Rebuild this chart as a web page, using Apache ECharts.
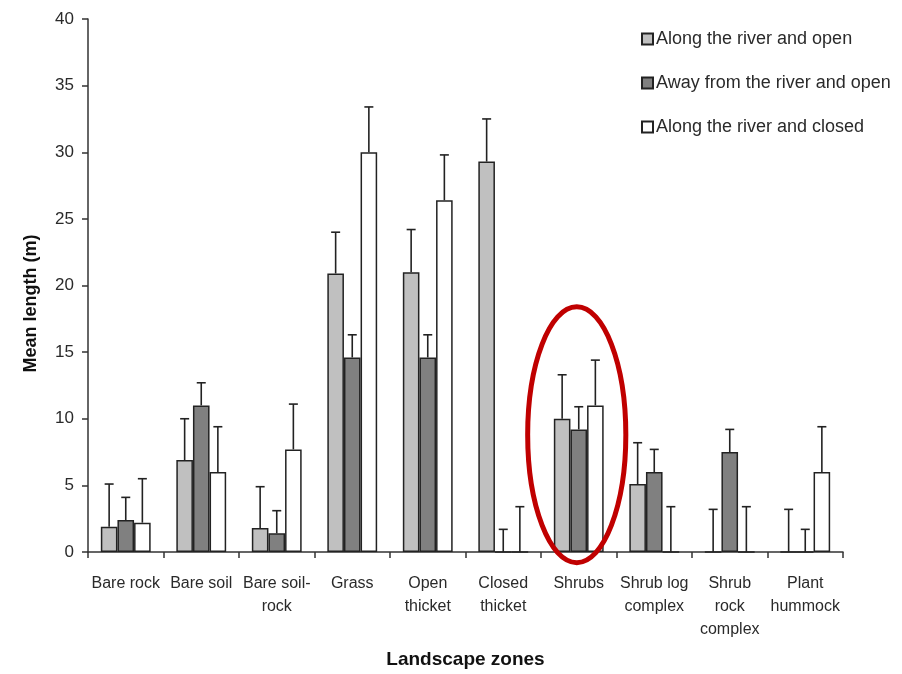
<!DOCTYPE html>
<html>
<head>
<meta charset="utf-8">
<style>
  html, body { margin: 0; padding: 0; background: #fff; overflow: hidden; }
  #chart { position: absolute; left: 0; top: 0; width: 902px; height: 674px; }
</style>
<script src="https://cdn.jsdelivr.net/npm/echarts@6/dist/echarts.min.js"></script>
</head>
<body>
<div id="chart"></div>
<script>
// Landscape zones on the category axis
const zones = ['Bare rock', 'Bare soil', 'Bare soil-\nrock', 'Grass', 'Open\nthicket',
  'Closed\nthicket', 'Shrubs', 'Shrub log\ncomplex', 'Shrub\nrock\ncomplex', 'Plant\nhummock'];

const seriesNames = ['Along the river and open', 'Away from the river and open', 'Along the river and closed'];

// Mean lengths (m)
const alongOpen   = [1.9, 6.9, 1.8, 20.9, 21.0, 29.3, 10.0, 5.1, 0, 0];
const awayOpen    = [2.4, 11.0, 1.4, 14.6, 14.6, 0, 9.2, 6.0, 7.5, 0];
const alongClosed = [2.2, 6.0, 7.7, 30.0, 26.4, 0, 11.0, 0, 0, 6.0];

// Upper error (m), added on top of each mean
const errAlongOpen   = [3.2, 3.1, 3.1, 3.1, 3.2, 3.2, 3.3, 3.1, 3.2, 3.2];
const errAwayOpen    = [1.7, 1.7, 1.7, 1.7, 1.7, 1.7, 1.7, 1.7, 1.7, 1.7];
const errAlongClosed = [3.3, 3.4, 3.4, 3.4, 3.4, 3.4, 3.4, 3.4, 3.4, 3.4];

const yTicks = { min: 0, max: 40, interval: 5 };

const fills = ['#c0c0c0', '#808080', '#ffffff'];
const means = [alongOpen, awayOpen, alongClosed];
const errs = [errAlongOpen, errAwayOpen, errAlongClosed];

const categoryGap = 0.34;
const textColor = '#2a2a2a';
const fontFamily = 'Arial, "Liberation Sans", sans-serif';

const chart = echarts.init(document.getElementById('chart'), null, { renderer: 'canvas', width: 902, height: 674 });

function errorSeries(k) {
  return {
    type: 'custom',
    name: seriesNames[k] + ' error',
    z: 5,
    silent: true,
    data: means[k].map((v, i) => [i, v, v + errs[k][i]]),
    renderItem: function (params, api) {
      const band = api.size([1, 0])[0];
      const barW = band * (1 - categoryGap) / 3;
      const off = (k - 1) * barW;
      const base = api.coord([api.value(0), api.value(1)]);
      const top = api.coord([api.value(0), api.value(2)]);
      const x = base[0] + off;
      const half = 4.5;
      const style = { stroke: '#222', lineWidth: 1.6 };
      return {
        type: 'group',
        children: [
          { type: 'line', shape: { x1: x, y1: base[1], x2: x, y2: top[1] }, style: style },
          { type: 'line', shape: { x1: x - half, y1: top[1], x2: x + half, y2: top[1] }, style: style }
        ]
      };
    }
  };
}

const barSeries = seriesNames.map((name, k) => ({
  type: 'bar',
  name: name,
  data: means[k],
  barGap: '0%',
  barCategoryGap: (categoryGap * 100) + '%',
  itemStyle: { color: fills[k], borderColor: '#222', borderWidth: 1.5 }
}));

chart.setOption({
  animation: false,
  backgroundColor: '#fff',
  grid: { left: 88, right: 59, top: 19, bottom: 119 },
  legend: {
    orient: 'vertical',
    left: 636,
    top: 24,
    itemWidth: 11,
    itemHeight: 11,
    itemGap: 24,
    icon: 'rect',
    data: seriesNames,
    textStyle: { fontFamily: fontFamily, fontSize: 18, color: textColor, padding: [0, 0, 0, -2], lineHeight: 20 }
  },
  xAxis: {
    type: 'category',
    data: zones,
    name: 'Landscape zones',
    nameLocation: 'middle',
    nameGap: 98,
    nameTextStyle: { fontFamily: fontFamily, fontSize: 19, fontWeight: 'bold', color: '#111' },
    axisLine: { lineStyle: { color: '#333', width: 1.5 } },
    axisTick: { show: true, length: 6, lineStyle: { color: '#333', width: 1.5 } },
    axisLabel: { interval: 0, margin: 20, fontFamily: fontFamily, fontSize: 16, lineHeight: 23, color: textColor }
  },
  yAxis: {
    type: 'value',
    min: yTicks.min,
    max: yTicks.max,
    interval: yTicks.interval,
    name: 'Mean length (m)',
    nameLocation: 'middle',
    nameGap: 48,
    nameTextStyle: { fontFamily: fontFamily, fontSize: 18, fontWeight: 'bold', color: '#111', padding: [0, 36, 0, 0] },
    splitLine: { show: false },
    axisLine: { show: true, lineStyle: { color: '#333', width: 1.5 } },
    axisTick: { show: true, length: 6, lineStyle: { color: '#333', width: 1.5 } },
    axisLabel: { margin: 14, fontFamily: fontFamily, fontSize: 17, color: textColor }
  },
  series: barSeries.concat([0, 1, 2].map(errorSeries))
});

// Highlight ellipse around the Shrubs group
function drawHighlight() {
  const idx = zones.indexOf('Shrubs');
  const c = chart.convertToPixel({ xAxisIndex: 0, yAxisIndex: 0 }, [idx, 8.8]);
  const topPx = chart.convertToPixel({ yAxisIndex: 0 }, 18.4);
  const left = chart.convertToPixel({ xAxisIndex: 0 }, idx);
  const next = chart.convertToPixel({ xAxisIndex: 0 }, idx + 1);
  const band = next - left;
  chart.setOption({
    graphic: [{
      type: 'ellipse',
      z: 100,
      shape: { cx: c[0] - 2, cy: c[1], rx: band * 0.65, ry: c[1] - topPx },
      style: { fill: 'none', stroke: '#c00000', lineWidth: 5 }
    }]
  });
}
drawHighlight();
</script>
</body>
</html>
